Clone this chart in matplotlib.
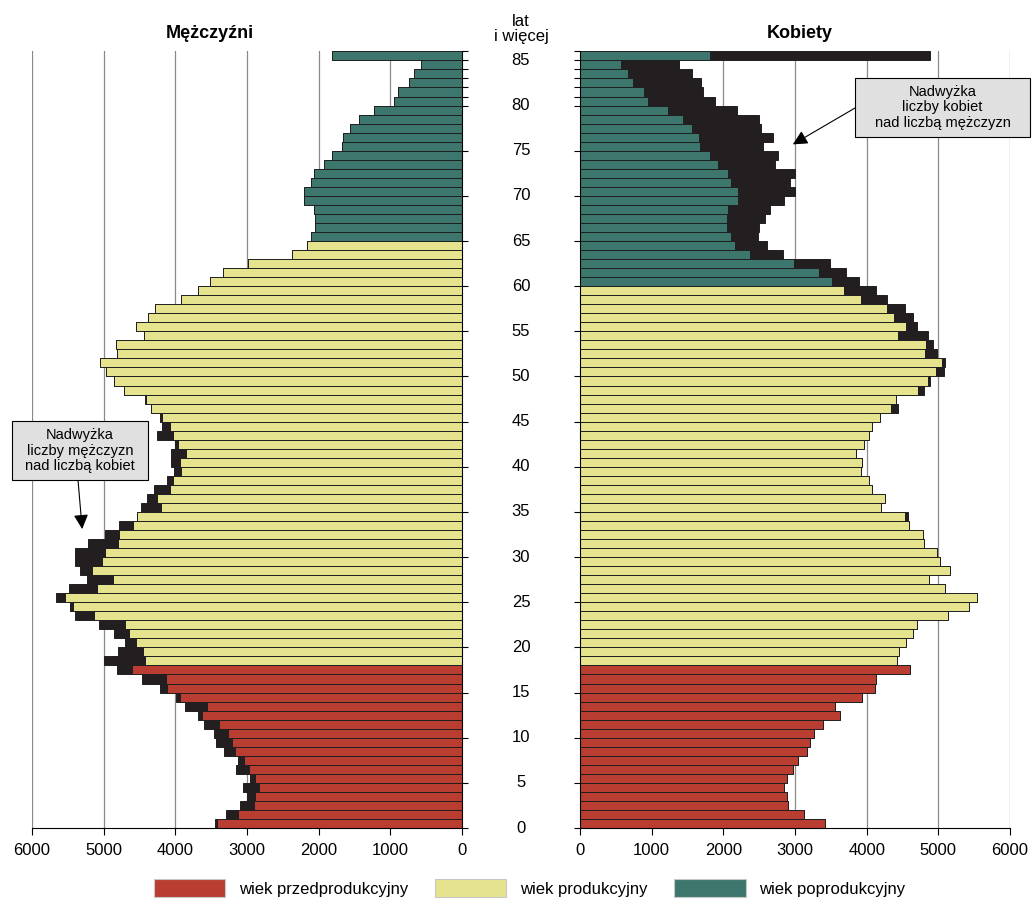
import numpy as np
import matplotlib
matplotlib.use('Agg')
import matplotlib.pyplot as plt
from matplotlib.transforms import blended_transform_factory
from matplotlib.patches import Patch, Rectangle

plt.rcParams['font.family'] = ['Liberation Sans', 'DejaVu Sans']

# 1 - Data (age 0 ... 85 i wiecej)

ages = list(range(86))

men = [3440, 3290, 3100, 3000, 3050, 2955, 3150, 3130, 3320, 3430,
       3460, 3600, 3680, 3860, 3990, 4210, 4460, 4810, 4990, 4800,
       4700, 4860, 5060, 5400, 5470, 5670, 5490, 5230, 5330, 5400,
       5400, 5220, 4980, 4780, 4535, 4480, 4400, 4300, 4110, 4020,
       4060, 4060, 4000, 4250, 4180, 4220, 4340, 4430, 4720, 4850,
       4970, 5050, 4810, 4830, 4440, 4550, 4380, 4280, 3920, 3690,
       3520, 3330, 2990, 2375, 2165, 2110, 2055, 2055, 2070, 2207,
       2207, 2110, 2070, 1925, 1810, 1680, 1655, 1565, 1440, 1235,
       955, 890, 745, 675, 570, 1810]

women = [3425, 3130, 2905, 2890, 2840, 2890, 2975, 3045, 3170, 3205,
         3270, 3390, 3630, 3565, 3940, 4120, 4125, 4600, 4430, 4450,
         4555, 4650, 4700, 5135, 5430, 5540, 5100, 4870, 5160, 5020,
         4975, 4805, 4790, 4595, 4570, 4205, 4250, 4080, 4035, 3925,
         3940, 3855, 3970, 4035, 4080, 4190, 4440, 4405, 4800, 4890,
         5080, 5090, 4980, 4930, 4850, 4700, 4640, 4530, 4280, 4130,
         3900, 3710, 3490, 2830, 2605, 2490, 2500, 2580, 2650, 2850,
         3005, 2930, 3005, 2720, 2770, 2560, 2690, 2520, 2500, 2185,
         1885, 1710, 1685, 1570, 1380, 4885]

age_ticks = list(range(0, 86, 5))
x_ticks = [0, 1000, 2000, 3000, 4000, 5000, 6000]
groups = ['wiek przedprodukcyjny', 'wiek produkcyjny', 'wiek poprodukcyjny']

# working age starts at 18, retirement: men 65, women 60
start_work = 18
retire_m = 65
retire_k = 60

red = '#B93D30'
yellow = '#E6E38F'
green = '#3C766C'
black = '#231F20'
edge = '#1E1E1E'

men = np.array(men)
women = np.array(women)
common = np.minimum(men, women)
surplus_m = np.where(men > women, men - women, 0)
surplus_k = np.where(women > men, women - men, 0)


def group_colors(retire):
    cols = []
    for a in ages:
        if a < start_work:
            cols.append(red)
        elif a < retire:
            cols.append(yellow)
        else:
            cols.append(green)
    return cols


# 2 - Figure and axes

W, H = 1036, 901
fig = plt.figure(figsize=(W / 100, H / 100), dpi=100)
ax_m = fig.add_axes([0.0309, 0.081, 0.4151, 0.862])
ax_k = fig.add_axes([0.5598, 0.081, 0.4151, 0.862])

ax_m.barh(ages, common, height=1, align='edge', color=group_colors(retire_m),
          edgecolor=edge, linewidth=0.7)
ax_m.barh(ages, surplus_m, left=common, height=1, align='edge', color=black,
          edgecolor=black, linewidth=0.7)

ax_k.barh(ages, common, height=1, align='edge', color=group_colors(retire_k),
          edgecolor=edge, linewidth=0.7)
ax_k.barh(ages, surplus_k, left=common, height=1, align='edge', color=black,
          edgecolor=black, linewidth=0.7)

ax_m.set_xlim(6000, 0)
ax_k.set_xlim(0, 6000)

for ax in [ax_m, ax_k]:
    ax.set_ylim(0, 86)
    ax.set_xticks(x_ticks)
    ax.set_xticklabels([str(v) for v in x_ticks], fontsize=12)
    ax.set_yticks(age_ticks)
    ax.set_yticks([81, 82, 83, 84, 86], minor=True)
    ax.set_yticklabels([])
    ax.tick_params(axis='x', direction='out', length=5, width=0.8, pad=6)
    ax.tick_params(axis='y', which='both', direction='out', length=4, width=0.8)
    ax.grid(axis='x', color='#8A8A8A', linewidth=0.9)
    ax.set_axisbelow(True)
    ax.spines['top'].set_visible(False)
    ax.spines['bottom'].set_linewidth(0.8)

ax_m.spines['left'].set_visible(False)
ax_m.spines['right'].set_linewidth(0.8)
ax_m.yaxis.tick_right()
ax_k.spines['right'].set_visible(False)
ax_k.spines['left'].set_linewidth(0.8)

# 3 - Age labels in the middle

trans = blended_transform_factory(ax_m.transAxes, ax_m.transData)
for a in age_ticks:
    ax_m.text(1.137, a, str(a), transform=trans, ha='center', va='center',
              fontsize=12, clip_on=False)

fig.text(521 / W, 1 - 29 / H, 'lat\ni więcej', ha='center', va='center',
         fontsize=12, linespacing=0.95)
fig.text(210 / W, 1 - 33 / H, 'Mężczyźni', ha='center', va='center',
         fontsize=13, weight='bold')
fig.text(800 / W, 1 - 33 / H, 'Kobiety', ha='center', va='center',
         fontsize=13, weight='bold')

# 4 - Annotations (box in figure pixels, arrow tip in data)


def note(ax, text, box, start, tip):
    x0, y0, x1, y1 = box
    fig.add_artist(Rectangle((x0 / W, 1 - y1 / H), (x1 - x0) / W, (y1 - y0) / H,
                             transform=fig.transFigure, fc='#E0E0E0',
                             ec='black', lw=0.8))
    fig.text((x0 + x1) / 2 / W, 1 - (y0 + y1) / 2 / H, text, ha='center',
             va='center', fontsize=10.5, linespacing=1.1)
    ax.annotate('', xy=tip, xytext=(start[0] / W, 1 - start[1] / H),
                textcoords='figure fraction', annotation_clip=False,
                arrowprops=dict(arrowstyle='-|>', color='black', lw=0.8,
                                mutation_scale=22, shrinkA=0, shrinkB=0))


note(ax_m, 'Nadwyżka\nliczby mężczyzn\nnad liczbą kobiet',
     (12, 421, 148, 480), (78, 480), (5300, 33.1))
note(ax_k, 'Nadwyżka\nliczby kobiet\nnad liczbą mężczyzn',
     (855, 78, 1030, 137), (855, 108), (2970, 75.7))

# 5 - Legend

handles = [Patch(facecolor=c, edgecolor='#C8C8C8', linewidth=0.8)
           for c in [red, yellow, green]]
fig.legend(handles, groups, loc='center', bbox_to_anchor=(0.511, 0.0144),
           ncol=3, frameon=False, fontsize=12, handlelength=4.3,
           handleheight=1.2, handletextpad=0.8, columnspacing=1.6)

fig.savefig('out.png', dpi=100)
